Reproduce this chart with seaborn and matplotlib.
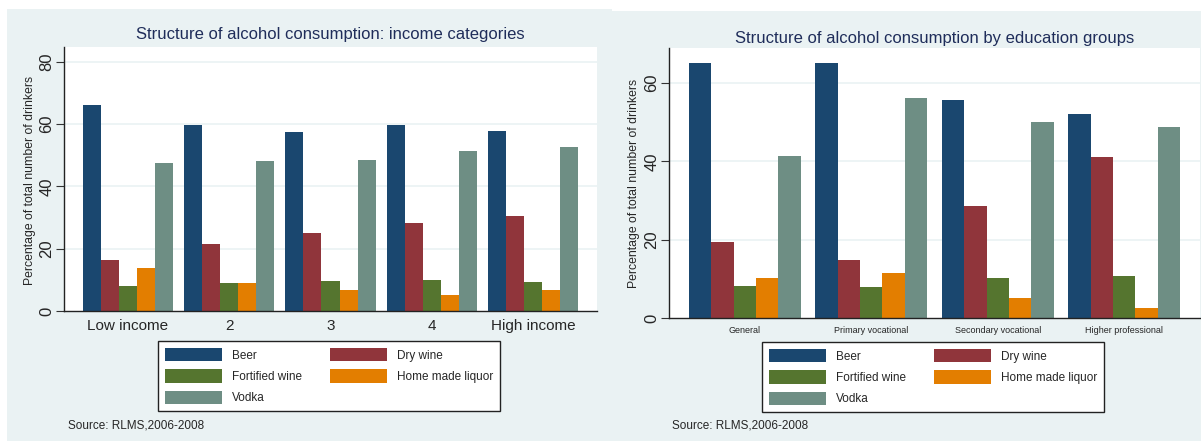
import matplotlib
matplotlib.use("Agg")
import matplotlib.pyplot as plt
import seaborn as sns
import pandas as pd
from matplotlib.patches import Rectangle, Patch

sns.set_theme(style="white")
plt.rcParams['font.family'] = ['Liberation Sans', 'DejaVu Sans']

drinks = ["Beer", "Dry wine", "Fortified wine", "Home made liquor", "Vodka"]
colors = ["#1a476f", "#90353b", "#55752f", "#e37e00", "#6e8e84"]

income_groups = ["Low income", "2", "3", "4", "High income"]
income_beer = [66.2, 59.9, 57.4, 59.9, 57.7]
income_drywine = [16.4, 21.4, 25.2, 28.2, 30.6]
income_fortified = [8.1, 8.9, 9.6, 10.1, 9.2]
income_liquor = [13.8, 8.9, 6.6, 5.1, 6.7]
income_vodka = [47.4, 48.2, 48.5, 51.5, 52.8]

edu_groups = ["General", "Primary vocational", "Secondary vocational", "Higher professional"]
edu_beer = [65.0, 65.0, 55.7, 52.1]
edu_drywine = [19.5, 14.9, 28.5, 41.0]
edu_fortified = [8.1, 7.8, 10.1, 10.7]
edu_liquor = [10.1, 11.4, 5.1, 2.6]
edu_vodka = [41.4, 56.1, 50.0, 48.7]

def long_df(groups, series):
    rows = []
    for d, vals in zip(drinks, series):
        for g, v in zip(groups, vals):
            rows.append({"group": g, "drink": d, "value": v})
    return pd.DataFrame(rows)

df_inc = long_df(income_groups, [income_beer, income_drywine, income_fortified, income_liquor, income_vodka])
df_edu = long_df(edu_groups, [edu_beer, edu_drywine, edu_fortified, edu_liquor, edu_vodka])

W, H = 1201, 441
fig = plt.figure(figsize=(W / 100, H / 100), dpi=100)
fig.patch.set_facecolor("white")

bg = "#eaf2f3"
def px_rect(x0, y0, x1, y1):
    return [x0 / W, 1 - y1 / H, (x1 - x0) / W, (y1 - y0) / H]

fig.patches.append(Rectangle((7 / W, 0), (612 - 7) / W, 1 - 9 / H, transform=fig.transFigure,
                             facecolor=bg, edgecolor="none", zorder=-10))
fig.patches.append(Rectangle((610 / W, 0), (W - 610) / W, 1 - 11 / H, transform=fig.transFigure,
                             facecolor=bg, edgecolor="none", zorder=-10))

title_color = "#1f2d5a"

def style_axis(ax, ylim, yticks, xlim, xfs):
    ax.set_facecolor("white")
    ax.set_ylim(*ylim)
    ax.set_xlim(*xlim)
    ax.set_yticks(yticks)
    ax.set_yticklabels([str(t) for t in yticks], rotation=90, va="center", fontsize=12)
    for t in yticks[1:]:
        ax.axhline(t, color=bg, lw=1.2, zorder=0)
    ax.tick_params(axis="y", length=6, width=0.8, color="#333333", pad=1, left=True)
    ax.tick_params(axis="x", length=0, labelsize=xfs, pad=6)
    for s in ["top", "right"]:
        ax.spines[s].set_visible(False)
    for s in ["left", "bottom"]:
        ax.spines[s].set_color("#222222")
        ax.spines[s].set_linewidth(1.0)
    ax.set_xlabel("")
    ax.set_ylabel("")
    if ax.get_legend() is not None:
        ax.get_legend().remove()

# left panel
ax1 = fig.add_axes(px_rect(64, 47, 597, 311))
sns.barplot(data=df_inc, x="group", y="value", hue="drink", hue_order=drinks, order=income_groups,
            palette=colors, width=0.889, gap=0, saturation=1, errorbar=None, ax=ax1, zorder=2,
            linewidth=0)
style_axis(ax1, (0, 84.8), [0, 20, 40, 60, 80], (-0.632, 4.632), 11)

# right panel
ax2 = fig.add_axes(px_rect(669, 48, 1200, 318))
sns.barplot(data=df_edu, x="group", y="value", hue="drink", hue_order=drinks, order=edu_groups,
            palette=colors, width=0.885, gap=0, saturation=1, errorbar=None, ax=ax2, zorder=2,
            linewidth=0)
style_axis(ax2, (0, 68.9), [0, 20, 40, 60], (-0.6, 3.6), 6.5)

# titles
fig.text(330.5 / W, 1 - 35 / H, "Structure of alcohol consumption: income categories",
         ha="center", va="center", fontsize=12, color=title_color)
fig.text(934.5 / W, 1 - 38 / H, "Structure of alcohol consumption by education groups",
         ha="center", va="center", fontsize=12, color=title_color)

# y labels
fig.text(30 / W, 1 - 180 / H, "Percentage of total number of drinkers", rotation=90,
         ha="center", va="center", fontsize=8.8)
fig.text(634 / W, 1 - 183 / H, "Percentage of total number of drinkers", rotation=90,
         ha="center", va="center", fontsize=8.8)

# legends
order_idx = [0, 2, 4, 1, 3]
handles = [Patch(facecolor=colors[i], edgecolor="none") for i in order_idx]
labels = [drinks[i] for i in order_idx]

def add_legend(x0, y0):
    leg = fig.legend(handles, labels, ncol=2, loc="upper left",
                     bbox_to_anchor=(x0 / W, 1 - y0 / H), bbox_transform=fig.transFigure,
                     fontsize=8.5, frameon=True, fancybox=False, handlelength=4.8, handleheight=1.35,
                     handletextpad=0.85, labelspacing=0.66, columnspacing=2.4, borderpad=0.6,
                     borderaxespad=0)
    fr = leg.get_frame()
    fr.set_edgecolor("#222222")
    fr.set_linewidth(1.0)
    fr.set_facecolor("white")
    fr.set_alpha(1)
    return leg

add_legend(158, 341)
add_legend(762, 342)

# sources
fig.text(68 / W, 1 - 426 / H, "Source: RLMS,2006-2008", ha="left", va="center", fontsize=8.5)
fig.text(672 / W, 1 - 426 / H, "Source: RLMS,2006-2008", ha="left", va="center", fontsize=8.5)

fig.savefig("out.png", dpi=100, facecolor="white")
